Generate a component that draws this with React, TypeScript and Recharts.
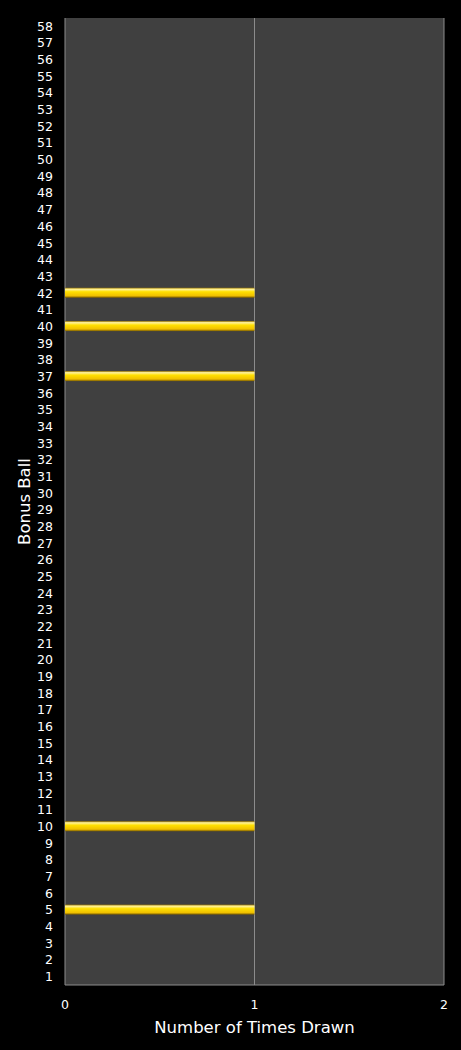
import { BarChart, Bar, XAxis, YAxis, CartesianGrid, Label } from 'recharts';

const BALLS = Array.from({ length: 58 }, (_, i) => String(i + 1));
const DRAWN_BALLS = ['5', '10', '37', '40', '42'];
const DRAWN_COUNTS = [1, 1, 1, 1, 1];
const X_TICKS = [0, 1, 2];

const data = BALLS.map((ball) => {
  const idx = DRAWN_BALLS.indexOf(ball);
  return { ball, count: idx >= 0 ? DRAWN_COUNTS[idx] : 0 };
});

const FONT = '"DejaVu Sans", Verdana, sans-serif';

function GoldBar(props: any) {
  const { x, y, width, height } = props;
  if (!width || width <= 0) return null;
  return <rect x={x} y={y} width={width} height={height} fill="url(#goldGrad)" />;
}

export default function App() {
  return (
    <div style={{ position: 'absolute', left: 0, top: 0, width: 461, height: 1050, background: '#000' }}>
      <BarChart
        width={461}
        height={1050}
        data={data}
        layout="vertical"
        margin={{ top: 18, right: 17, bottom: 0, left: 0 }}
        barCategoryGap={0}
      >
        <defs>
          <linearGradient id="goldGrad" x1="0" y1="0" x2="0" y2="1">
            <stop offset="0" stopColor="#a07c00" />
            <stop offset="0.15" stopColor="#fff3a0" />
            <stop offset="0.4" stopColor="#ffe000" />
            <stop offset="0.8" stopColor="#f0c000" />
            <stop offset="1" stopColor="#7a5c00" />
          </linearGradient>
        </defs>
        <CartesianGrid horizontal={false} fill="#404040" stroke="#8c8c8c" strokeWidth={1} />
        <XAxis
          type="number"
          domain={[0, 2]}
          ticks={X_TICKS}
          height={65}
          tickLine={false}
          tickSize={6}
          tickMargin={9}
          axisLine={{ stroke: '#8c8c8c' }}
          tick={{ fill: '#fff', fontSize: 12.5, fontFamily: FONT }}
        >
          <Label
            content={({ viewBox }: any) => (
              <text
                x={viewBox.x + viewBox.width / 2}
                y={viewBox.y + 43}
                fill="#fff"
                fontSize={16.5}
                fontFamily={FONT}
                textAnchor="middle"
                dominantBaseline="middle"
              >
                Number of Times Drawn
              </text>
            )}
          />
        </XAxis>
        <YAxis
          type="category"
          dataKey="ball"
          reversed
          width={65}
          interval={0}
          tickLine={false}
          tickSize={6}
          tickMargin={6}
          axisLine={false}
          tick={{ fill: '#fff', fontSize: 12.5, fontFamily: FONT }}
        >
          <Label
            content={({ viewBox }: any) => {
              const cx = 25;
              const cy = viewBox.y + viewBox.height / 2;
              return (
                <text
                  x={cx}
                  y={cy}
                  fill="#fff"
                  fontSize={16.5}
                  fontFamily={FONT}
                  textAnchor="middle"
                  dominantBaseline="middle"
                  transform={`rotate(-90 ${cx} ${cy})`}
                >
                  Bonus Ball
                </text>
              );
            }}
          />
        </YAxis>
        <Bar dataKey="count" barSize={10} shape={<GoldBar />} isAnimationActive={false} />
      </BarChart>
    </div>
  );
}
